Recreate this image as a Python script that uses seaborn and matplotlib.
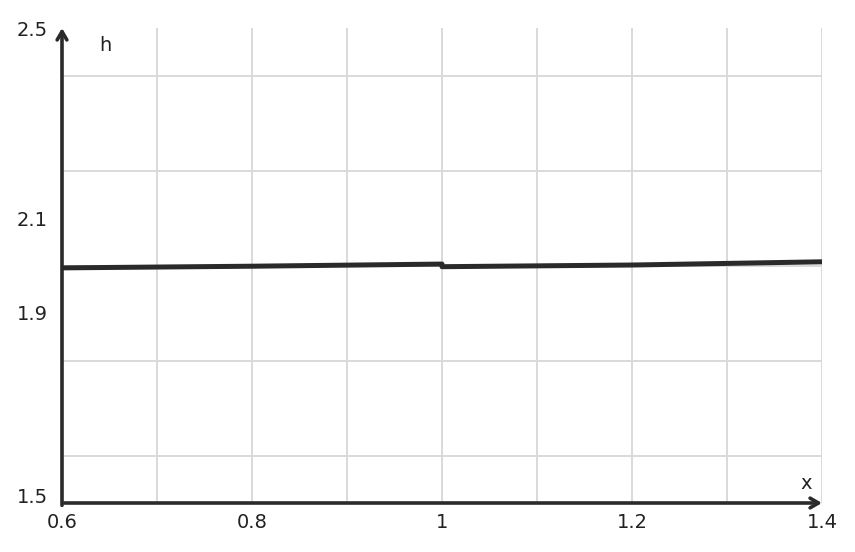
import matplotlib
matplotlib.use("Agg")
import matplotlib.pyplot as plt
import seaborn as sns
import pandas as pd

# data
x_left = [0.6, 0.8, 1.0]
h_left = [1.995, 1.9985, 2.003]
x_right = [1.0, 1.2, 1.4]
h_right = [1.9975, 2.001, 2.0078]

x_major = [0.6, 0.8, 1.0, 1.2, 1.4]
x_labels = ["0.6", "0.8", "1", "1.2", "1.4"]
x_minor = [0.7, 0.9, 1.1, 1.3]
y_major = [1.5, 1.9, 2.1, 2.5]
y_labels = ["1.5", "1.9", "2.1", "2.5"]
y_minor = [1.6, 1.8, 2.0, 2.2, 2.4]

sns.set_style("white")
plt.rcParams["font.family"] = ["DejaVu Sans"]

fig = plt.figure(figsize=(8.55, 5.52), dpi=100)
ax = fig.add_axes([62 / 855, 49 / 552, 760 / 855, 475 / 552])

dark = "#2a2a2a"
df_l = pd.DataFrame({"x": x_left, "h": h_left})
df_r = pd.DataFrame({"x": x_right, "h": h_right})
sns.lineplot(data=df_l, x="x", y="h", ax=ax, color=dark, linewidth=3.6, zorder=5)
sns.lineplot(data=df_r, x="x", y="h", ax=ax, color=dark, linewidth=3.6, zorder=5)

ax.set_xlim(0.6, 1.4)
ax.set_ylim(1.5, 2.5)

ax.set_xticks(x_major)
ax.set_xticklabels(x_labels)
ax.set_xticks(x_minor, minor=True)
ax.set_yticks(y_major)
ax.set_yticklabels(y_labels)
ax.set_yticks(y_minor, minor=True)

# grid lines
for xv in x_minor + x_major[1:]:
    ax.axvline(xv, color="#d9d9d9", linewidth=1.4, zorder=1)
for yv in y_minor:
    ax.axhline(yv, color="#d9d9d9", linewidth=1.4, zorder=1)

ax.tick_params(axis="x", which="major", length=3, width=2, direction="in",
               color=dark, pad=7, labelsize=14, labelcolor="#222222")
ax.tick_params(axis="x", which="minor", length=3, width=2, direction="in", color=dark)
ax.tick_params(axis="y", which="major", length=0, pad=10, labelsize=14,
               labelcolor="#222222")
ax.tick_params(axis="y", which="minor", length=3, width=2, direction="in", color=dark)

ylabs = ax.get_yticklabels()
ylabs[0].set_verticalalignment("baseline")

for s in ["top", "right", "left", "bottom"]:
    ax.spines[s].set_visible(False)

# axes with arrowheads
ax.annotate("", xy=(0, 1.0), xytext=(0, -0.005), xycoords="axes fraction",
            arrowprops=dict(arrowstyle="->,head_length=0.6,head_width=0.35",
                            color=dark, lw=2.6, shrinkA=0, shrinkB=0),
            annotation_clip=False, zorder=6)
ax.annotate("", xy=(1.0, 0), xytext=(0.003, 0), xycoords="axes fraction",
            arrowprops=dict(arrowstyle="->,head_length=0.6,head_width=0.35",
                            color=dark, lw=2.6, shrinkA=0, shrinkB=0),
            annotation_clip=False, zorder=6)

ax.text(0.057, 0.963, "h", transform=ax.transAxes, fontsize=14, color="#222222",
        ha="center", va="center")
ax.text(0.979, 0.042, "x", transform=ax.transAxes, fontsize=14, color="#222222",
        ha="center", va="center")

ax.set_xlabel("")
ax.set_ylabel("")

fig.savefig("out.png", dpi=100)
